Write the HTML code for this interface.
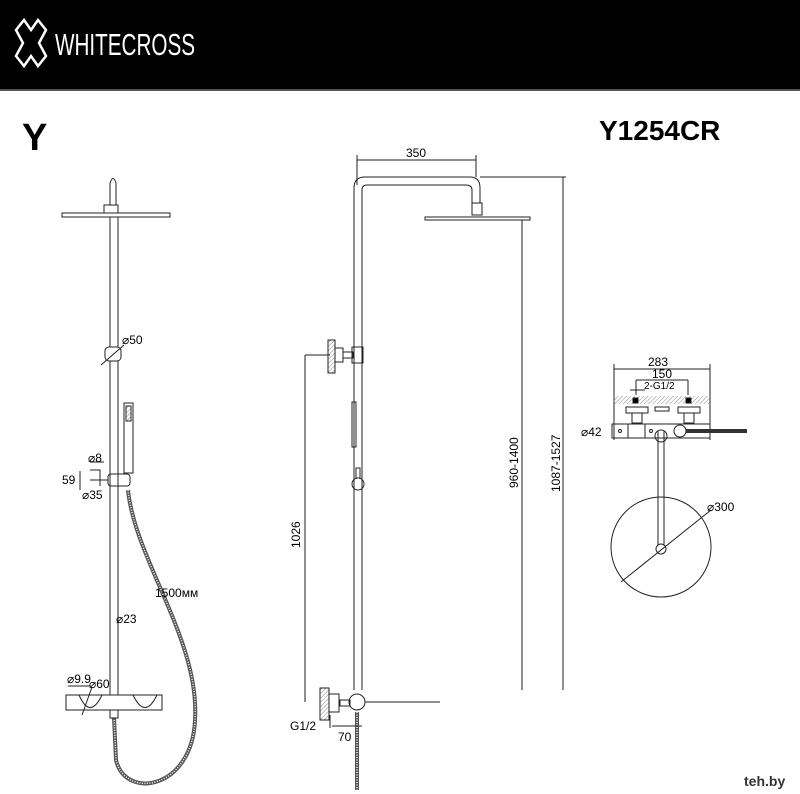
<!DOCTYPE html>
<html><head><meta charset="utf-8"><style>
body{margin:0;background:#fff}
svg{display:block}
text{font-family:"Liberation Sans",sans-serif;fill:#000}
</style></head><body>
<svg width="800" height="794" viewBox="0 0 800 794" xmlns="http://www.w3.org/2000/svg">
<defs>
<pattern id="h" width="3" height="3" patternUnits="userSpaceOnUse" patternTransform="rotate(45)"><line x1="0" y1="0" x2="0" y2="3" stroke="#888" stroke-width="1"/></pattern>
</defs>
<rect x="0" y="0" width="800" height="90" fill="#000"/>
<rect x="0" y="89" width="800" height="2" fill="#555"/>
<path d="M16 30 L24 20 L31 30 L38 20 L46 30 L39 43 L46 56 L38 66 L31 56 L24 66 L16 56 L23 43 Z" fill="none" stroke="#fff" stroke-width="2.5"/>
<text x="55" y="55" font-size="31" style="fill:#fff" textLength="140" lengthAdjust="spacingAndGlyphs">WHITECROSS</text>
<text x="22" y="150" font-size="38" font-weight="bold">Y</text>
<text x="599" y="140" font-size="28" font-weight="bold">Y1254CR</text>

<g fill="none" stroke="#222" stroke-width="1">
<!-- LEFT VIEW -->
<path d="M110 205 L110 183 Q113 174 116 183 L116 205"/>
<rect x="104" y="205" width="14" height="8"/>
<rect x="62" y="213" width="108" height="4"/>
<rect x="110" y="217" width="8" height="130"/>
<rect x="105" y="347" width="16" height="14" rx="4"/>
<line x1="101" y1="365" x2="124" y2="345"/>
<rect x="110" y="361" width="8" height="334"/>
<rect x="124" y="403" width="9" height="70"/>
<rect x="126" y="406" width="5" height="15" fill="url(#h)"/>
<rect x="108" y="474" width="22" height="12" rx="3"/>
<path d="M90 470 L100 470 L100 486 M80 471 L80 490 M90 480 L108 480 M90 462 L104 462"/>
<path d="M128 490 C135 560 200 640 195 720 C192 790 125 800 116 760 L114 718" stroke="#555" stroke-width="4"/>
<path d="M128 490 C135 560 200 640 195 720 C192 790 125 800 116 760 L114 718" stroke="#fff" stroke-width="1.5" stroke-dasharray="1 1.5"/>
<rect x="66" y="695" width="96" height="15" fill="#fff"/>
<path d="M79 695 Q90 720 102 695 M133 695 Q145 720 157 695"/>
<line x1="82" y1="715" x2="92" y2="687"/>
<line x1="68" y1="686" x2="90" y2="686"/>
<rect x="110" y="710" width="8" height="8" fill="#fff"/>
<!-- MIDDLE VIEW -->
<path d="M354 690 L354 188 Q354 177 365 177 L470 177 Q480 177 480 188 L480 203 M362 690 L362 190 Q362 185 367 185 L466 185 Q472 185 472 190 L472 203"/>
<rect x="472" y="203" width="10" height="12"/>
<rect x="425" y="217" width="105" height="3"/>
<line x1="357" y1="160" x2="476" y2="160"/>
<line x1="357" y1="155" x2="357" y2="185"/><line x1="476" y1="155" x2="476" y2="177"/>
<line x1="480" y1="177" x2="566" y2="177"/>
<line x1="563" y1="177" x2="563" y2="690"/>
<line x1="522" y1="220" x2="522" y2="690"/>
<rect x="328" y="340" width="7" height="33" fill="url(#h)"/>
<rect x="335" y="348" width="8" height="14"/>
<rect x="343" y="352" width="10" height="6"/>
<rect x="352" y="347" width="11" height="16"/>
<line x1="305" y1="355" x2="330" y2="355"/>
<line x1="305" y1="355" x2="305" y2="702"/>
<rect x="352" y="402" width="4" height="45"/>
<circle cx="358" cy="484" r="6"/>
<rect x="356" y="468" width="4" height="10"/>
<rect x="320" y="688" width="9" height="32" fill="url(#h)"/>
<rect x="329" y="694" width="10" height="18"/>
<rect x="340" y="700" width="10" height="6"/>
<circle cx="357" cy="702" r="8"/>
<line x1="365" y1="702" x2="440" y2="702"/>
<path d="M357 712 L357 790" stroke="#555" stroke-width="4"/>
<path d="M357 712 L357 790" stroke="#fff" stroke-width="1.5" stroke-dasharray="1 1.5"/>
<path d="M330 715 L330 728 M332 726 L362 726"/>
<!-- RIGHT VIEW -->
<line x1="614" y1="364" x2="614" y2="440"/><line x1="710" y1="364" x2="710" y2="440"/>
<line x1="614" y1="369" x2="710" y2="369"/>
<line x1="636" y1="380" x2="688" y2="380"/>
<line x1="636" y1="380" x2="636" y2="395"/><line x1="688" y1="380" x2="688" y2="395"/>
<line x1="630" y1="390" x2="645" y2="390"/>
<rect x="614" y="396" width="96" height="8" fill="url(#h)" stroke="none"/>
<rect x="633" y="398" width="5" height="5" fill="#000"/>
<rect x="686" y="398" width="5" height="5" fill="#000"/>
<rect x="626" y="407" width="22" height="6"/><rect x="678" y="407" width="22" height="6"/>
<rect x="655" y="407" width="14" height="4"/>
<rect x="632" y="413" width="10" height="10"/><rect x="684" y="413" width="10" height="10"/>
<rect x="612" y="424" width="98" height="14"/>
<line x1="628" y1="424" x2="628" y2="438"/><line x1="645" y1="424" x2="645" y2="438"/>
<circle cx="620" cy="431" r="1.5"/><circle cx="651" cy="431" r="1.5"/>
<circle cx="680" cy="431" r="6"/>
<path d="M686 431 L747 431" stroke="#333" stroke-width="4"/>
<path d="M658 431 L658 545 M664 431 L664 545"/>
<circle cx="661" cy="436" r="6"/>
<circle cx="661" cy="549" r="5"/>
<circle cx="661" cy="547" r="50"/>
<line x1="621" y1="582" x2="711" y2="510"/>
</g>
<g font-size="12">
<text x="122" y="344">⌀50</text>
<text x="88" y="462">⌀8</text>
<text x="62" y="484">59</text>
<text x="82" y="499">⌀35</text>
<text x="155" y="597">1500мм</text>
<text x="116" y="623">⌀23</text>
<text x="67" y="683">⌀9.9</text>
<text x="89" y="688">⌀60</text>
<text x="406" y="157">350</text>
<text transform="translate(518,488) rotate(-90)">960-1400</text>
<text transform="translate(560,492) rotate(-90)">1087-1527</text>
<text transform="translate(300,548) rotate(-90)">1026</text>
<text x="290" y="730">G1/2</text>
<text x="338" y="741">70</text>
<text x="648" y="366">283</text>
<text x="652" y="378">150</text>
<text x="644" y="389" font-size="10">2-G1/2</text>
<text x="581" y="436">⌀42</text>
<text x="707" y="511">⌀300</text>
</g>
<rect x="737" y="766" width="63" height="28" rx="3" fill="#fff"/>
<text x="744" y="786" font-size="14" font-weight="bold" style="fill:#333">teh.by</text>
</svg>
</body></html>
